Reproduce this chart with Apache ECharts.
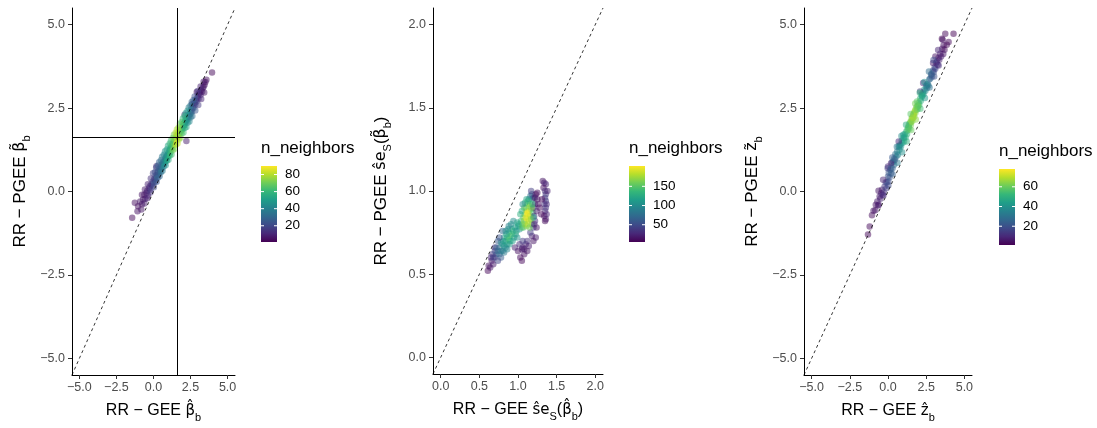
<!DOCTYPE html>
<html>
<head>
<meta charset="utf-8">
<script src="https://cdn.jsdelivr.net/npm/echarts@6/dist/echarts.min.js"></script>
<style>html,body{margin:0;padding:0;background:#fff}#c{width:1097px;height:428px}</style>
</head>
<body>
<div id="c"></div>
<script>
// ---------------- DATA ----------------
// Panel 1: [RR-GEE beta_hat, RR-PGEE beta_tilde, n_neighbors]
const p1Points = [
 [-1.44,-0.79,3],[-1.26,-0.34,4],[-1.08,-0.59,5],[-1.04,-0.44,4],[-0.90,-0.30,6],[-0.78,-0.38,5],[-0.70,-0.24,7],[-0.62,-0.10,8],[-0.55,-0.22,6],[-0.47,-0.04,9],[-0.42,0.02,10],[-0.38,-0.12,8],
 [-0.30,0.10,14],[-0.25,0.16,12],[-0.20,0.05,16],[-0.15,0.22,18],[-0.10,0.18,15],[-0.05,0.30,20],[0.00,0.25,22],[0.05,0.38,19],[0.09,0.36,24],[0.12,0.30,21],[0.15,0.48,26],[0.20,0.42,25],[0.20,0.76,8],[0.25,0.50,28],[0.28,0.58,27],[0.31,0.61,30],[0.35,0.52,29],[0.40,0.68,32],[0.45,0.62,31],[0.50,0.72,35],[0.55,0.80,36],[0.58,0.70,34],
 [0.62,0.86,40],[0.65,0.82,42],[0.70,0.90,44],[0.75,0.84,45],[0.78,0.98,47],[0.82,0.94,50],[0.87,1.06,52],[0.90,1.00,53],[0.95,1.10,55],[1.00,1.14,57],[1.02,1.08,56],[1.06,1.20,60],[1.10,1.24,61],[1.14,1.18,62],[1.18,1.32,66],[1.21,1.36,68],[1.25,1.30,67],
 [1.30,1.42,72],[1.35,1.40,75],[1.40,1.52,78],[1.45,1.48,80],[1.50,1.60,84],[1.55,1.66,87],[1.58,1.62,86],[1.62,1.70,85],[1.66,1.66,82],[1.70,1.78,80],[1.75,1.72,76],[1.80,1.84,73],
 [1.85,1.80,68],[1.90,1.92,65],[1.95,1.88,62],[2.00,1.96,60],[2.05,2.04,57],[2.10,2.30,12],[2.10,2.00,55],[2.15,2.12,53],[2.20,2.10,50],[2.22,1.51,8],[2.25,2.20,48],[2.30,2.16,46],[2.35,2.28,44],[2.40,2.24,42],
 [2.44,2.31,38],[2.48,2.40,36],[2.52,2.34,34],[2.56,2.46,32],[2.60,2.40,30],[2.65,2.52,28],[2.70,2.50,26],[2.74,2.62,25],[2.78,2.66,23],[2.82,2.60,21],[2.86,2.74,20],[2.90,2.70,19],[2.95,2.80,17],[3.00,2.86,16],
 [3.04,2.78,14],[3.08,2.94,12],[3.12,2.96,11],[3.18,2.90,10],[3.22,3.04,9],[3.28,3.00,8],[3.32,3.10,7],[3.38,3.14,6],[3.45,3.20,5],[3.50,3.28,4],[3.57,3.35,4],[3.95,3.57,2],[2.92,2.98,6],[2.60,2.62,10],
 [1.32,1.46,70],[1.38,1.46,76],[1.42,1.56,79],[1.48,1.54,83],[1.52,1.56,85],[1.56,1.58,88],[1.60,1.68,86],[1.64,1.74,84],[1.68,1.70,81],[1.72,1.74,78],[1.78,1.80,74],[1.12,1.28,62],[1.16,1.26,64],[0.98,1.04,56],[0.92,1.06,54],[0.84,1.02,51],[0.80,0.90,48],[1.92,1.86,64],[1.98,2.02,61],[2.06,1.98,58],[2.12,2.08,54],[2.18,2.16,51],
 [-0.82,-0.54,6],[-0.78,-0.10,5],[-0.61,-0.36,8],[-0.58,0.06,7],[-0.41,-0.20,10],[-0.38,0.22,9],[-0.21,-0.03,14],[-0.18,0.39,13],[0.02,0.13,20],[-0.03,0.55,18],[0.21,0.29,24],[0.18,0.71,22],[0.41,0.46,30],[0.38,0.88,28],[0.61,0.62,38],[0.58,1.04,36],
 [0.82,0.79,46],[0.78,1.21,44],[1.01,0.95,55],[0.98,1.37,53],[1.22,1.11,64],[1.18,1.53,62],[1.42,1.28,74],[1.38,1.70,72],[1.62,1.44,82],[1.58,1.86,80],[1.82,1.61,74],[1.78,2.03,72],[2.02,1.77,62],[1.98,2.19,60],[2.22,1.93,52],[2.18,2.35,50],
 [2.42,2.10,42],[2.38,2.52,40],[2.62,2.26,32],[2.58,2.68,30],[2.82,2.43,24],[2.78,2.85,22],[3.02,2.59,16],[2.98,3.01,15],[3.22,2.77,10],[3.18,3.15,9],[3.42,2.97,6],[3.38,3.29,6],
 [0.30,0.42,28],[0.50,0.58,34],[0.70,0.76,42],[0.90,0.92,52],[1.10,1.08,60],[1.30,1.24,70],[1.50,1.40,80],[1.70,1.56,78],[1.90,1.74,66],[2.10,1.90,56],[2.30,2.06,46],[2.50,2.22,36],
 [0.10,0.58,22],[0.30,0.78,28],[0.50,0.94,34],[0.70,1.10,43],[0.90,1.26,52],[1.10,1.44,60],[1.30,1.60,70],[1.50,1.76,80],[1.70,1.92,76],[1.90,2.08,64],[2.10,2.26,56],[2.30,2.42,46],[2.50,2.58,36],[2.70,2.74,26]
];
// Panel 2: [RR-GEE se_S(beta_hat), RR-PGEE se_S(beta_tilde), n_neighbors]
const p2Points = [
 [0.61,0.52,8],[0.62,0.55,12],[0.64,0.54,15],[0.66,0.58,20],[0.65,0.60,25],[0.68,0.56,18],[0.67,0.62,35],[0.70,0.60,40],[0.70,0.64,50],[0.72,0.62,55],[0.70,0.66,30],[0.74,0.70,60],[0.80,0.76,70],
 [0.74,0.64,70],[0.76,0.66,85],[0.78,0.64,80],[0.78,0.69,95],[0.80,0.68,105],[0.82,0.67,110],[0.82,0.72,115],[0.84,0.70,125],[0.86,0.72,135],[0.86,0.68,120],[0.88,0.71,140],[0.88,0.75,130],[0.90,0.73,145],[0.90,0.70,135],[0.92,0.74,140],[0.92,0.77,125],[0.94,0.76,130],[0.95,0.72,120],[0.96,0.78,115],[0.98,0.76,110],
 [1.00,0.79,115],[1.01,0.80,120],[1.02,0.77,110],[1.04,0.82,135],
 [1.06,0.80,150],[1.07,0.84,160],[1.08,0.82,170],[1.09,0.86,180],[1.10,0.84,190],[1.11,0.88,195],[1.12,0.83,200],[1.13,0.86,198],[1.14,0.88,190],[1.14,0.82,180],[1.15,0.91,170],[1.16,0.85,175],[1.16,0.92,155],[1.17,0.89,160],[1.18,0.95,130],[1.18,0.80,150],[1.19,0.87,140],[1.12,0.92,165],[1.10,0.90,170],
 [1.16,0.97,80],[1.18,0.98,60],[1.17,1.00,40],[1.20,0.96,50],[1.14,0.95,90],
 [1.20,0.90,40],[1.21,0.85,35],[1.22,0.82,30],[1.20,0.78,45],[1.22,0.92,25],[1.24,0.88,20],[1.25,0.95,15],[1.23,0.98,12],[1.25,0.99,10],
 [1.06,0.66,15],[1.03,0.60,10],[1.05,0.65,20],[1.08,0.65,18],[1.10,0.68,25],[1.14,0.67,20],[1.12,0.70,30],[1.18,0.73,22],[1.23,0.72,18],[1.20,0.70,15],[1.16,0.75,40],[1.06,0.70,40],[1.02,0.68,30],[1.00,0.64,12],[0.96,0.66,22],
 [1.32,1.06,15],[1.34,1.05,20],[1.36,1.04,25],[1.33,1.02,12],[1.35,1.00,30],[1.36,0.98,35],[1.35,0.96,40],[1.36,0.94,38],[1.34,0.92,32],[1.36,0.90,35],[1.35,0.88,30],[1.37,0.86,25],[1.34,0.85,15],[1.36,0.83,18],[1.35,0.82,10],[1.37,0.92,28],[1.31,0.95,8],[1.38,1.00,22],[1.28,0.90,10],[1.30,0.86,8],
 [0.76,0.62,75],[0.78,0.60,60],[0.80,0.64,90],[0.82,0.63,85],[0.84,0.66,100],[0.85,0.74,120],[0.87,0.77,110],[0.89,0.68,110],[0.91,0.80,105],[0.93,0.70,115],[0.94,0.82,100],[0.97,0.74,125],[0.99,0.72,105],[0.99,0.81,120],[0.84,0.76,100],[0.81,0.70,110],[0.86,0.65,95],[0.88,0.79,95],[0.72,0.66,65],[0.74,0.58,45],[0.76,0.72,55],[0.68,0.60,40],
 [1.03,0.86,130],[1.05,0.78,140],[1.05,0.88,125],[1.07,0.78,150],[1.08,0.90,150],[1.09,0.80,165],[1.11,0.79,170],[1.12,0.87,200],[1.13,0.80,185],[1.13,0.94,140],[1.15,0.84,195],[1.15,0.78,160],[1.17,0.83,170],[1.18,0.90,165],[1.19,0.92,130],[1.20,0.84,120],[1.11,0.95,120],[1.09,0.93,130],[1.06,0.92,100],
 [1.22,0.96,18],[1.26,0.92,12],[1.21,0.80,25],[1.24,0.78,15],[1.08,0.62,12],[1.12,0.64,15],[1.05,0.58,8]
];
// Panel 3: [RR-GEE z_hat, RR-PGEE z_tilde, n_neighbors]
const p3Points = [
 [-1.31,-1.29,2],[-1.20,-1.05,3],[-1.05,-0.71,3],[-0.95,-0.58,4],[-0.83,-0.56,5],[-0.80,-0.40,4],[-0.70,-0.30,6],[-0.65,-0.42,7],[-0.55,-0.15,6],[-0.50,-0.22,8],[-0.45,-0.05,9],[-0.40,0.05,7],[-0.35,-0.10,10],[-0.28,-0.02,12],
 [-0.22,0.15,14],[-0.15,0.28,16],[-0.10,0.10,15],[-0.07,0.28,18],[0.00,0.45,20],[0.02,0.30,19],[0.05,0.57,22],[0.10,0.42,21],[0.15,0.65,24],[0.20,0.55,23],[0.26,0.87,26],[0.30,0.70,25],[0.35,0.90,28],[0.40,0.80,27],[0.48,1.12,30],[0.45,0.95,12],[0.20,0.85,8],[0.00,0.75,10],
 [0.55,1.05,32],[0.60,1.20,34],[0.65,1.10,35],[0.70,1.36,37],[0.75,1.25,38],[0.80,1.40,40],[0.85,1.35,41],[0.90,1.52,42],[0.95,1.45,43],[1.02,1.61,45],[1.05,1.50,44],[1.10,1.72,46],[1.15,1.62,47],[0.70,1.50,10],
 [1.20,1.80,50],[1.25,1.72,52],[1.30,1.90,55],[1.35,1.96,57],[1.40,1.88,58],[1.45,2.05,60],[1.50,2.00,62],[1.55,2.18,63],[1.60,2.12,65],[1.65,2.30,66],[1.68,2.31,67],[1.72,2.25,66],[1.75,2.40,65],[1.80,2.36,64],[1.85,2.52,62],[1.90,2.55,60],[1.95,2.48,58],[2.00,2.65,56],[2.05,2.60,54],[2.10,2.78,52],[2.15,2.72,50],[2.20,2.90,48],
 [2.22,2.85,45],[2.28,2.96,43],[2.33,2.92,42],[2.38,3.06,40],[2.45,3.02,38],[2.50,3.16,36],[2.55,3.10,34],[2.60,3.22,32],[2.65,3.18,30],[2.10,3.00,12],[2.30,3.25,10],
 [2.70,3.36,28],[2.77,3.39,26],[2.82,3.50,24],[2.88,3.45,22],[2.94,3.62,20],[3.00,3.58,19],[3.05,3.72,18],[3.10,3.68,16],[3.15,3.85,15],
 [3.20,3.89,12],[3.25,3.80,10],[3.30,4.00,9],[3.36,3.95,8],[3.42,4.13,7],[3.48,4.05,6],[3.55,4.28,5],[3.64,4.38,4],[3.70,4.25,3],[3.53,4.58,2],[3.75,4.73,2],[3.97,4.48,3],[4.29,4.73,1],[3.85,4.40,2],[3.10,4.05,5],[2.95,3.85,6],
 [1.28,1.84,56],[1.38,2.02,59],[1.48,2.10,63],[1.58,2.22,66],[1.62,2.20,68],[1.70,2.35,69],[1.78,2.44,66],[1.88,2.45,61],[1.98,2.58,57],[1.52,2.08,64],
 [-0.60,-0.40,6],[-0.62,0.02,5],[-0.30,-0.12,10],[-0.32,0.35,8],[0.02,0.18,18],[-0.02,0.70,15],[0.30,0.52,24],[0.28,1.02,22],[0.62,0.86,33],[0.58,1.34,31],[0.92,1.18,40],[0.88,1.66,38],
 [1.22,1.50,50],[1.18,2.00,48],[1.52,1.84,60],[1.48,2.32,58],[1.82,2.16,65],[1.78,2.64,62],[2.12,2.48,54],[2.08,2.96,50],[2.42,2.80,42],[2.38,3.28,40],[2.72,3.12,30],[2.68,3.60,28],
 [3.02,3.45,20],[2.98,3.94,18],[3.32,3.78,11],[3.28,4.24,9],[3.62,4.12,5],[3.58,4.55,4],
 [0.40,0.98,28],[0.75,1.35,38],[1.05,1.62,46],[1.35,1.92,57],[1.65,2.22,67],[1.95,2.56,60],[2.25,2.88,47],[2.55,3.20,35],[2.85,3.52,24],[0.20,0.70,23],[1.00,1.70,45],[1.90,2.70,58]
];
// tick labels
const ticksBeta = [-5, -2.5, 0, 2.5, 5];
const ticksSe = [0, 0.5, 1, 1.5, 2];
const ticksZ = [-5, -2.5, 0, 2.5, 5];
// axis ranges
const rangeBeta = [-5.5, 5.5];
const rangeSe = [-0.1, 2.1];
const rangeZ = [-5.5, 5.5];
// reference lines in panel 1
const refLineX = 1.6;
const refLineY = 1.62;
// colour-bar ranges and ticks (n_neighbors)
const nRange1 = [1, 90], legTicks1 = [20, 40, 60, 80];
const nRange2 = [5, 203], legTicks2 = [50, 100, 150];
const nRange3 = [1, 78], legTicks3 = [20, 40, 60];
const legendTitle = 'n_neighbors';

// ---------------- CHART ----------------
const FONT = '"Liberation Sans", Arial, Helvetica, sans-serif';
const GFONT = '"DejaVu Sans", "Liberation Sans", sans-serif';
const viridis = ['#440154','#482878','#3E4A89','#31688E','#26828E','#1F9E89','#35B779','#6DCD59','#B4DE2C','#FDE725'];
const fmt = v => v.toFixed(1).replace('-', '\u2212');

const grids = [
  {left: 72, top: 8, width: 163, height: 367},
  {left: 433, top: 8, width: 170, height: 366},
  {left: 804, top: 8, width: 168, height: 371}
];
function makeRich(sz) {
  return {
    t: {fontSize: sz, color: '#000', fontFamily: FONT, lineHeight: 24},
    g: {fontSize: sz - 1, color: '#000', fontFamily: GFONT, lineHeight: 24},
    s: {fontSize: 11, color: '#000', fontFamily: FONT, lineHeight: 11, verticalAlign: 'bottom'}
  };
}
const richX = makeRich(16), richY = makeRich(17);
const panels = [
  {pts: p1Points, ticks: ticksBeta, range: rangeBeta, nr: nRange1, lt: legTicks1, legX: 261, legY: 166,
   xname: '{t|RR \u2212 GEE }{g|\u03B2\u0302}{s|b}', yname: '{t|RR \u2212 PGEE }{g|\u03B2\u0303}{s|b}'},
  {pts: p2Points, ticks: ticksSe, range: rangeSe, nr: nRange2, lt: legTicks2, legX: 629, legY: 166,
   xname: '{t|RR \u2212 GEE }{g|s\u0302e}{s|S}{t|(}{g|\u03B2\u0302}{s|b}{t|)}', yname: '{t|RR \u2212 PGEE }{g|s\u0302e}{s|S}{t|(}{g|\u03B2\u0303}{s|b}{t|)}'},
  {pts: p3Points, ticks: ticksZ, range: rangeZ, nr: nRange3, lt: legTicks3, legX: 999, legY: 169,
   xname: '{t|RR \u2212 GEE }{g|z\u0302}{s|b}', yname: '{t|RR \u2212 PGEE }{g|z\u0303}{s|b}'}
];

function axis(p, i, isX) {
  return {
    gridIndex: i, type: 'value', min: p.range[0], max: p.range[1],
    axisLine: {show: true, onZero: false, lineStyle: {color: '#000', width: 1}},
    axisTick: {show: true, length: 4, customValues: p.ticks, lineStyle: {color: '#333', width: 1}},
    axisLabel: {customValues: p.ticks, formatter: fmt, color: '#4d4d4d', fontSize: 12.5, fontFamily: FONT, margin: isX ? 6 : 7},
    splitLine: {show: false},
    name: isX ? p.xname : p.yname, nameLocation: 'middle', nameGap: isX ? 24 : 40,
    nameTextStyle: {rich: isX ? richX : richY}
  };
}

const series = [];
const visualMaps = [];
const graphics = [];
const BAR_W = 16, BAR_H = 76;
panels.forEach((p, i) => {
  series.push({
    type: 'scatter', xAxisIndex: i, yAxisIndex: i, data: p.pts, symbolSize: 6.5,
    itemStyle: {opacity: 0.5}, z: 2, silent: true
  });
  series.push({
    type: 'line', xAxisIndex: i, yAxisIndex: i, data: [[p.range[0], p.range[0]], [p.range[1], p.range[1]]],
    symbol: 'none', lineStyle: {color: '#000', width: 0.8, type: [3, 3]}, z: 3, silent: true
  });
  visualMaps.push({
    show: false, type: 'continuous', seriesIndex: i * 2, dimension: 2,
    min: p.nr[0], max: p.nr[1], inRange: {color: viridis}
  });
  graphics.push({type: 'text', left: p.legX, top: p.legY - 26,
    style: {text: legendTitle, fontSize: 17, fontFamily: FONT, fill: '#000'}});
  graphics.push({type: 'rect', shape: {x: p.legX, y: p.legY, width: BAR_W, height: BAR_H},
    style: {fill: new echarts.graphic.LinearGradient(0, 1, 0, 0,
      viridis.map((c, k) => ({offset: k / (viridis.length - 1), color: c})))}});
  p.lt.forEach(v => {
    const yy = p.legY + BAR_H - (v - p.nr[0]) / (p.nr[1] - p.nr[0]) * BAR_H;
    graphics.push({type: 'line', shape: {x1: p.legX, y1: yy, x2: p.legX + 3, y2: yy}, style: {stroke: '#fff', lineWidth: 1}});
    graphics.push({type: 'line', shape: {x1: p.legX + BAR_W - 3, y1: yy, x2: p.legX + BAR_W, y2: yy}, style: {stroke: '#fff', lineWidth: 1}});
    graphics.push({type: 'text', x: p.legX + BAR_W + 8, y: yy,
      style: {text: String(v), fontSize: 13.5, fontFamily: FONT, fill: '#000', verticalAlign: 'middle'}});
  });
});
series.push({
  type: 'line', xAxisIndex: 0, yAxisIndex: 0, data: [], z: 4, silent: true,
  markLine: {symbol: 'none', silent: true, label: {show: false}, animation: false,
    lineStyle: {color: '#000', width: 1, type: 'solid'},
    data: [{xAxis: refLineX}, {yAxis: refLineY}]}
});

const chart = echarts.init(document.getElementById('c'), null, {renderer: 'canvas'});
chart.setOption({
  animation: false,
  backgroundColor: '#fff',
  grid: grids,
  xAxis: panels.map((p, i) => axis(p, i, true)),
  yAxis: panels.map((p, i) => axis(p, i, false)),
  visualMap: visualMaps,
  series: series,
  graphic: graphics
});
</script>
</body>
</html>
